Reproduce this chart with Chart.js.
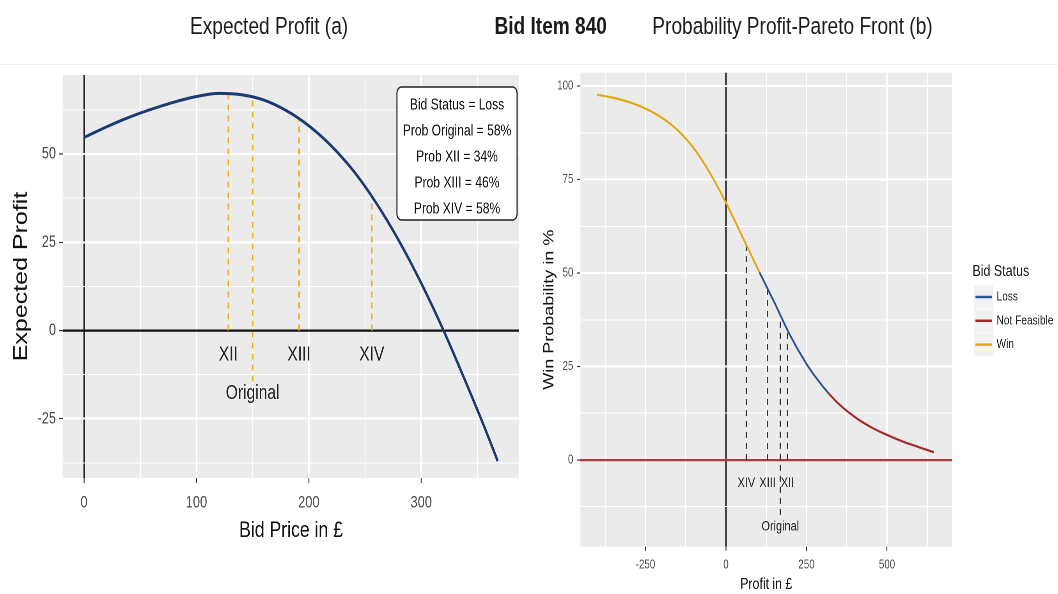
<!DOCTYPE html>
<html>
<head>
<meta charset="utf-8">
<script src="https://cdn.jsdelivr.net/npm/chart.js@4.4.1/dist/chart.umd.min.js"></script>
<style>
  html, body { margin: 0; padding: 0; background: #fff; overflow: hidden; }
  #page { position: absolute; left: 0; top: 0; width: 1357px; height: 594px;
          transform: scaleX(0.78); transform-origin: 0 0;
          font-family: "Liberation Sans", Arial, sans-serif; }
  .title { position: absolute; top: 14px; font-size: 24.5px; line-height: 24.5px;
           white-space: nowrap; transform: translateX(-50%); color: #1a1a1a; }
  .rule { position: absolute; left: 0; top: 64px; width: 100%; height: 1px; background: #F0F0F0; }
  canvas { position: absolute; top: 60px; }
</style>
</head>
<body>
<div id="page">
  <div class="title" style="left:345px">Expected Profit (a)</div>
  <div class="title" style="left:706px;font-weight:bold">Bid Item 840</div>
  <div class="title" style="left:1016px">Probability Profit-Pareto Front (b)</div>
  <div class="rule"></div>
  <canvas id="profitChart" width="680" height="534" style="left:0"></canvas>
  <canvas id="paretoChart" width="677" height="534" style="left:680px"></canvas>
</div>
<script>
// (a) expected profit against bid price
const bidPrice = [0, 20, 40, 60, 80, 100, 120, 140, 160, 180, 200, 220, 240, 260, 280, 300, 320, 340, 360, 368];
const expectedProfit = [54.7, 57.7, 60.4, 62.7, 64.7, 66.3, 67.2, 66.8, 65.3, 62.3, 58.0, 52.3, 45.1, 36.1, 25.5, 13.4, -0.1, -14.9, -30.4, -37.0];

const scenarios = ['XII', 'Original', 'XIII', 'XIV'];
const scenarioBid = [128.4, 150, 191.3, 256];
const scenarioProfit = [66.9, 66.0, 59.8, 37.9];
const scenarioLow = [0, -14.5, 0, 0];
const scenarioLabelY = [-6.9, -17.8, -6.9, -6.9];

const infoLines = ['Bid Status = Loss', 'Prob Original = 58%', 'Prob XII = 34%', 'Prob XIII = 46%', 'Prob XIV = 58%'];

const profitXTicks = [0, 100, 200, 300];
const profitXMinor = [50, 150, 250, 350];
const profitYTicks = [-25, 0, 25, 50];
const profitYMinor = [-37.5, -12.5, 12.5, 37.5, 62.5];

// (b) win probability against profit
const profit = [-400, -350, -300, -250, -200, -150, -100, -50, 0, 50, 104, 150, 200, 250, 285, 318, 350, 400, 450, 500, 550, 600, 645];
const winProb = [97.7, 96.9, 95.7, 94.0, 91.6, 88.2, 83.4, 76.8, 68.8, 59.9, 50.2, 42.2, 33.2, 25.7, 21.4, 17.9, 15.0, 11.5, 8.8, 6.7, 4.9, 3.4, 2.1];
const bidStatus = ['Win', 'Win', 'Win', 'Win', 'Win', 'Win', 'Win', 'Win', 'Win', 'Win',
  'Loss', 'Loss', 'Loss', 'Loss', 'Loss',
  'Not Feasible', 'Not Feasible', 'Not Feasible', 'Not Feasible', 'Not Feasible', 'Not Feasible', 'Not Feasible', 'Not Feasible'];
const statusNames = ['Loss', 'Not Feasible', 'Win'];

const paretoScenarios = ['XIV', 'XIII', 'Original', 'XII'];
const paretoProfit = [63, 129, 168.6, 191];
const paretoProb = [57.6, 45.9, 38.8, 34.6];
const paretoLow = [0, 0, -14.7, 0];
const paretoLabelY = [-6.2, -6.2, -17.9, -6.2];

const paretoXTicks = [-250, 0, 250, 500];
const paretoXMinor = [-375, -125, 125, 375, 625];
const paretoYTicks = [0, 25, 50, 75, 100];
const paretoYMinor = [-12.5, 12.5, 37.5, 62.5, 87.5];

const statusColors = { 'Loss': '#2B5494', 'Not Feasible': '#A32A2A', 'Win': '#E2A90F' };
const FONT = '"Liberation Sans", Arial, sans-serif';
Chart.defaults.font.family = FONT;

function gridAxis(min, max, major, minor, zero, tickSize, tickPad, tickLen, size, title) {
  const all = major.concat(minor).sort((a, b) => a - b);
  const isMajor = v => major.includes(v);
  return {
    type: 'linear', min, max,
    afterBuildTicks: axis => { axis.ticks = all.map(v => ({ value: v })); },
    afterFit: s => { if (s.isHorizontal()) s.height = size; else s.width = size; },
    ticks: { autoSkip: false, maxRotation: 0, color: '#4D4D4D', font: { size: tickSize }, padding: tickPad,
      callback: v => isMajor(v) ? String(v) : '' },
    grid: {
      color: c => c.tick && c.tick.value === 0 ? zero.color : '#FFFFFF',
      lineWidth: c => c.tick && c.tick.value === 0 ? zero.width : (isMajor(c.tick.value) ? 2 : 1),
      tickColor: c => isMajor(c.tick.value) ? '#333333' : 'rgba(0,0,0,0)',
      tickLength: tickLen, tickWidth: 1.2
    },
    border: { display: false },
    title
  };
}

const panelBg = {
  id: 'panelBg',
  beforeDraw(chart) {
    const { ctx, chartArea: a } = chart;
    ctx.save();
    ctx.fillStyle = '#EBEBEB';
    ctx.fillRect(a.left, a.top, a.width, a.height);
    ctx.restore();
  }
};

function scenarioText(names, xs, ys, size) {
  return {
    id: 'scenarioText',
    afterDatasetsDraw(chart) {
      const { ctx, scales: { x, y } } = chart;
      ctx.save();
      ctx.font = size + 'px ' + FONT;
      ctx.fillStyle = '#222';
      ctx.textAlign = 'center';
      ctx.textBaseline = 'middle';
      names.forEach((n, i) => ctx.fillText(n, x.getPixelForValue(xs[i]), y.getPixelForValue(ys[i])));
      ctx.restore();
    }
  };
}

const infoBox = {
  id: 'infoBox',
  afterDraw(chart) {
    const { ctx, chartArea: a } = chart;
    const w = 154, h = 133, right = a.right - 2.5, top = a.top + 12;
    const left = right - w;
    ctx.save();
    ctx.beginPath();
    ctx.roundRect(left, top, w, h, 6);
    ctx.fillStyle = '#FFFFFF';
    ctx.fill();
    ctx.lineWidth = 1.4;
    ctx.strokeStyle = '#222';
    ctx.stroke();
    ctx.font = '15.5px ' + FONT;
    ctx.fillStyle = '#111';
    ctx.textAlign = 'center';
    ctx.textBaseline = 'middle';
    infoLines.forEach((t, i) => ctx.fillText(t, left + w / 2, top + 18 + i * 26));
    ctx.restore();
  }
};

const statusLegend = {
  id: 'statusLegend',
  afterDraw(chart) {
    const { ctx, chartArea: a } = chart;
    const x0 = a.right + 26;
    ctx.save();
    ctx.fillStyle = '#1a1a1a';
    ctx.font = '16px ' + FONT;
    ctx.textBaseline = 'alphabetic';
    ctx.fillText('Bid Status', x0, 216);
    statusNames.forEach((name, i) => {
      const cy = 237 + i * 23.8;
      ctx.fillStyle = '#F2F2F2';
      ctx.fillRect(x0 + 2.4, cy - 11.5, 24.6, 23);
      ctx.strokeStyle = statusColors[name];
      ctx.lineWidth = 2.5;
      ctx.beginPath();
      ctx.moveTo(x0 + 4, cy);
      ctx.lineTo(x0 + 25, cy);
      ctx.stroke();
      ctx.fillStyle = '#222';
      ctx.font = '13px ' + FONT;
      ctx.textBaseline = 'middle';
      ctx.fillText(name, x0 + 31, cy);
    });
    ctx.restore();
  }
};

const dropLine = (x, lo, hi, color, width) => ({
  data: [{ x, y: lo }, { x, y: hi }],
  borderColor: color, borderWidth: width, borderDash: [6, 5], pointRadius: 0, order: 1
});

// left chart
new Chart(document.getElementById('profitChart'), {
  type: 'line',
  data: {
    datasets: [
      { data: bidPrice.map((x, i) => ({ x, y: expectedProfit[i] })),
        borderColor: '#1B3A73', borderWidth: 3, pointRadius: 0, cubicInterpolationMode: 'monotone', order: 0 },
      ...scenarios.map((s, i) => dropLine(scenarioBid[i], scenarioLow[i], scenarioProfit[i], '#EDB120', 2))
    ]
  },
  options: {
    responsive: false, animation: false, events: [], devicePixelRatio: 2,
    layout: { padding: { left: 0, top: 15, right: 14.6, bottom: 0 } },
    plugins: { legend: { display: false }, tooltip: { enabled: false } },
    scales: {
      x: gridAxis(-18.7, 387, profitXTicks, profitXMinor, { color: '#111', width: 1.6 }, 16.5, 10, 5, 116,
        { display: true, text: 'Bid Price in £', color: '#111', font: { size: 22.6 }, padding: { top: 0, bottom: 49.5 } }),
      y: gridAxis(-41.8, 72.4, profitYTicks, profitYMinor, { color: '#111', width: 2.2 }, 16.5, 4, 5, 80.8,
        { display: true, text: 'Expected Profit', color: '#111', font: { size: 25 }, padding: { top: 12.8, bottom: 0 } })
    }
  },
  plugins: [panelBg, scenarioText(scenarios, scenarioBid, scenarioLabelY, 20), infoBox]
});

// right chart: one curve, each stretch coloured by the bid status where it starts
new Chart(document.getElementById('paretoChart'), {
  type: 'line',
  data: {
    datasets: [
      { data: profit.map((x, i) => ({ x, y: winProb[i] })),
        borderWidth: 2.2, pointRadius: 0, cubicInterpolationMode: 'monotone', order: 0,
        borderColor: statusColors['Win'],
        segment: { borderColor: c => statusColors[bidStatus[c.p0DataIndex]] } },
      ...paretoScenarios.map((s, i) => dropLine(paretoProfit[i], paretoLow[i], paretoProb[i], '#333333', 1.6))
    ]
  },
  options: {
    responsive: false, animation: false, events: [], devicePixelRatio: 2,
    layout: { padding: { left: 0, top: 12.7, right: 136.4, bottom: 0 } },
    plugins: { legend: { display: false }, tooltip: { enabled: false } },
    scales: {
      x: gridAxis(-452, 702, paretoXTicks, paretoXMinor, { color: '#111', width: 1.6 }, 12.5, 7, 4, 47.3,
        { display: true, text: 'Profit in £', color: '#111', font: { size: 15.8 }, padding: { top: 0, bottom: 0 } }),
      y: gridAxis(-23.2, 103.6, paretoYTicks, paretoYMinor, { color: '#A93C3C', width: 2.2 }, 12.5, 5, 4, 64.1,
        { display: true, text: 'Win Probability in %', color: '#111', font: { size: 18 }, padding: { top: 13.6, bottom: 0 } })
    }
  },
  plugins: [panelBg, scenarioText(paretoScenarios, paretoProfit, paretoLabelY, 14), statusLegend]
});
</script>
</body>
</html>
